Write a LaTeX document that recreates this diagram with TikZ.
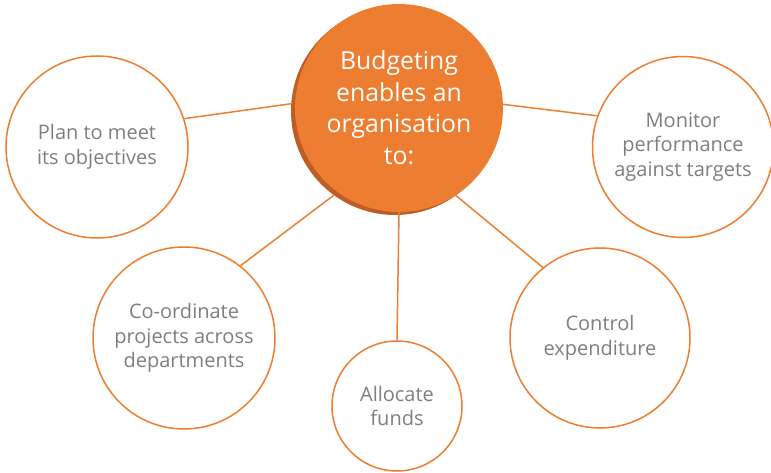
\documentclass[tikz,border=0pt]{standalone}
\usepackage{fontspec}
\setmainfont{Open Sans}

\definecolor{budorange}{HTML}{ED7D31}
\definecolor{budshade}{HTML}{BD5E27}
\definecolor{budgrey}{HTML}{7F7F7F}

\begin{document}
\begin{tikzpicture}[x=1pt,y=-1pt,
	aim/.style={circle,draw=budorange,line width=1.5pt,fill=white,inner sep=0pt,
		text=budgrey,align=center,font=\fontsize{20}{24.5}\selectfont},
	link/.style={draw=budorange,line width=1.5pt}]

\useasboundingbox (0,0) rectangle (771,473);

% hub with its darker rim
\node [circle,fill=budshade,inner sep=0pt,minimum size=208pt] (shade) at (395,111) {};
\node [circle,fill=budorange,inner sep=0pt,minimum size=208pt,text=white,align=center,
	font=\fontsize{24.8}{31.5}\selectfont] (hub) at (399,108)
	{Budgeting\\enables an\\organisation\\to:};

\foreach \name/\x/\y/\d/\txt in {
	plan/97/147/182/{Plan to meet\\its objectives},
	monitor/683/147/181/{Monitor\\performance\\against targets},
	coord/184/338/182/{Co-ordinate\\projects across\\departments},
	control/600/338/180/{Control\\expenditure},
	alloc/397/406/130/{Allocate\\funds}} {
	\node [aim,minimum size=\d pt] (\name) at (\x,\y) {\txt};
}

\draw [link] (shade.176) -- (plan.18);
\draw [link] (hub.2) -- (monitor.160);
\draw [link] (shade.234) -- (coord.52);
\draw [link] (hub.-57) -- (control.129);
\draw [link] (hub.-90) -- (alloc.north);

\end{tikzpicture}
\end{document}
